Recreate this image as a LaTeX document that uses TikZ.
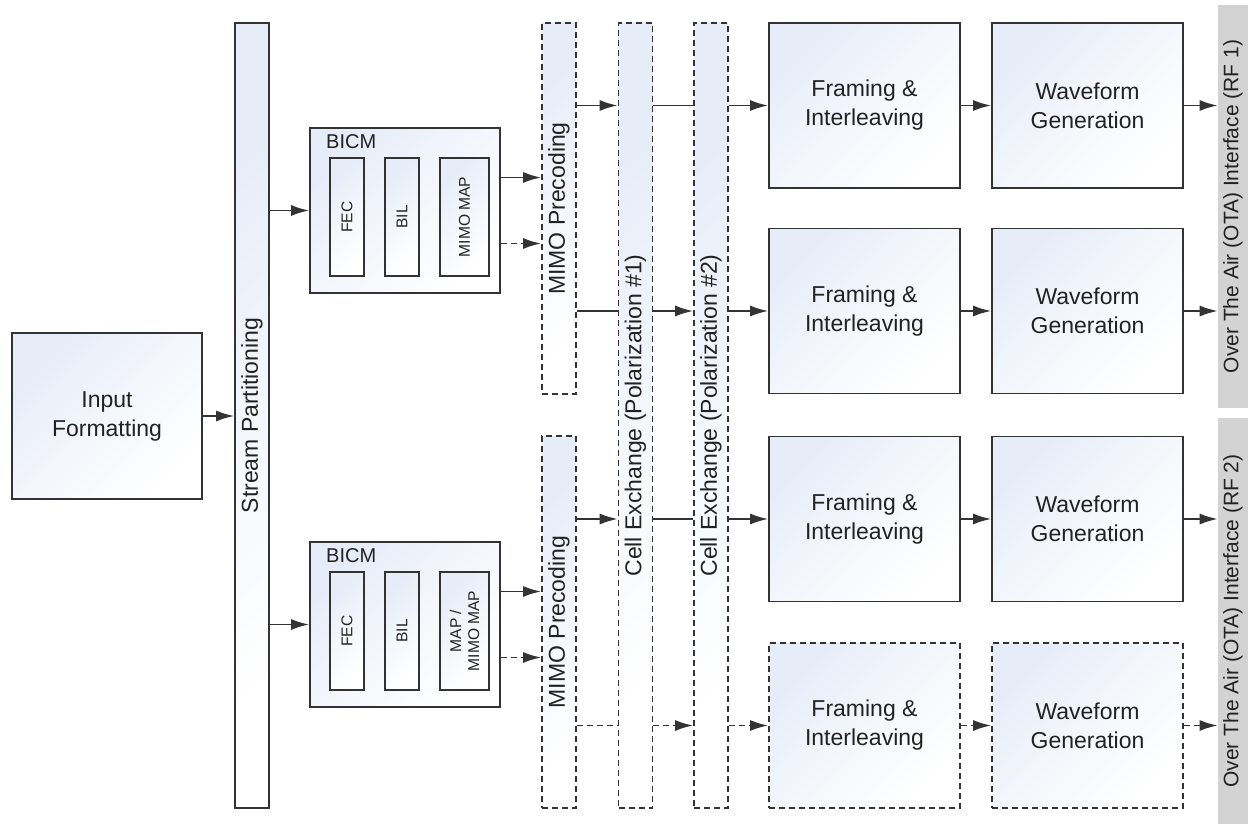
\documentclass[tikz,border=0pt]{standalone}
\usepackage{fontspec}
\setmainfont{Liberation Sans}
\usetikzlibrary{arrows.meta}
\definecolor{edge}{HTML}{333333}
\definecolor{tint}{HTML}{E6ECF8}
\definecolor{ink}{HTML}{222222}
\definecolor{otagray}{HTML}{D3D3D3}
\tikzset{
  >={Latex[length=9pt,width=5.5pt]},
  blk/.style={draw=edge,line width=0.9pt,top color=tint,bottom color=white,
    middle color=tint!45!white,shading angle=45,inner sep=0pt,text=ink,align=center,
    font=\fontsize{11.5}{14.5}\selectfont},
  dblk/.style={blk,dash pattern=on 3pt off 2pt},
  vtxt/.style={rotate=90,text=ink,font=\fontsize{11.5}{14.5}\selectfont},
  tinytxt/.style={rotate=90,text=ink,align=center,font=\fontsize{7.8}{9}\selectfont},
  otabar/.style={fill=otagray,draw=none,inner sep=0pt},
  otatxt/.style={rotate=90,text=ink,font=\fontsize{10.5}{12}\selectfont},
  link/.style={draw=edge,line width=0.85pt},
  dlink/.style={link,dash pattern=on 3pt off 2pt},
}

\begin{document}
\begin{tikzpicture}[x=0.5pt,y=-0.5pt]
\fill[white] (0,0) rectangle (1248,824);
\useasboundingbox (0,0) rectangle (1248,824);
% input side
\node[blk,minimum width=95pt,minimum height=83pt] (inp) at (107,416) {Input\\Formatting};
\node[blk,minimum width=17pt,minimum height=392.5pt] (stream) at (252,415.5) {};
\node[vtxt] (streamtxt) at (stream) {Stream Partitioning};
% the two BICM chains
\foreach \k/\y/\maptxt in {1/210.5/{MIMO MAP},2/624.5/{MAP /\\MIMO MAP}} {
  \node[blk,minimum width=95pt,minimum height=82.5pt] (bicm\k) at (405,\y) {};
  \node[anchor=west,text=ink,font=\fontsize{10}{11}\selectfont] (bicmlbl\k)
    at ([xshift=5pt,yshift=-7.5pt]bicm\k.north west) {BICM};
  \node[blk,minimum width=17pt,minimum height=59pt] (fec\k) at (347,\y+6.5) {};
  \node[blk,minimum width=17pt,minimum height=59pt] (bil\k) at (402,\y+6.5) {};
  \node[blk,minimum width=24.5pt,minimum height=59pt] (map\k) at (464.5,\y+6.5) {};
  \node[tinytxt] (fectxt\k) at (fec\k) {FEC};
  \node[tinytxt] (biltxt\k) at (bil\k) {BIL};
  \node[tinytxt] (maptxt\k) at (map\k) {\maptxt};
}
% precoding and cell exchange
\node[dblk,minimum width=17pt,minimum height=185.5pt] (mimo1) at (559,208.5) {};
\node[dblk,minimum width=17pt,minimum height=186pt] (mimo2) at (559,622) {};
\node[vtxt] (mimotxt1) at (mimo1) {MIMO Precoding};
\node[vtxt] (mimotxt2) at (mimo2) {MIMO Precoding};
\node[dblk,minimum width=17pt,minimum height=392.5pt] (cell1) at (635.5,415.5) {};
\node[dblk,minimum width=17pt,minimum height=392.5pt] (cell2) at (711,415.5) {};
\node[vtxt] (celltxt1) at (cell1) {Cell Exchange (Polarization \#1)};
\node[vtxt] (celltxt2) at (cell2) {Cell Exchange (Polarization \#2)};
% OTA interfaces
\node[otabar,minimum width=15pt,minimum height=201.5pt] (ota1) at (1233,206.5) {};
\node[otabar,minimum width=15pt,minimum height=203pt] (ota2) at (1233,621) {};
\node[otatxt] (otatxt1) at (ota1) {Over The Air (OTA) Interface (RF 1)};
\node[otatxt] (otatxt2) at (ota2) {Over The Air (OTA) Interface (RF 2)};
% framing + waveform rows
\foreach \i/\y/\bx/\ln/\o in {1/105.5/blk/link/ota1,2/311/blk/link/ota1,
    3/519/blk/link/ota2,4/725.5/dblk/dlink/ota2} {
  \node[\bx,minimum width=95.5pt,minimum height=82.5pt] (frame\i) at (864.5,\y) {Framing \&\\Interleaving};
  \node[\bx,minimum width=95.5pt,minimum height=82.5pt] (wave\i) at (1087.5,\y) {Waveform\\Generation};
  \draw[\ln,->] (frame\i) -- (wave\i);
  \draw[\ln,->] (wave\i) -- (\o.west |- wave\i);
}
% connectors
\draw[link,->] (inp) -- (stream.west |- inp);
\draw[link,->] (stream.east |- bicm1) -- (bicm1);
\draw[link,->] (stream.east |- bicm2) -- (bicm2);
\path ([yshift=16.5pt]bicm1.east) coordinate (b1hi) ([yshift=-16.5pt]bicm1.east) coordinate (b1lo)
      ([yshift=16.5pt]bicm2.east) coordinate (b2hi) ([yshift=-16.5pt]bicm2.east) coordinate (b2lo);
\draw[link,->] (b1hi) -- (mimo1.west |- b1hi);
\draw[dlink,->] (b1lo) -- (mimo1.west |- b1lo);
\draw[link,->] (b2hi) -- (mimo2.west |- b2hi);
\draw[dlink,->] (b2lo) -- (mimo2.west |- b2lo);
\draw[link,->] (mimo1.east |- frame1) -- (cell1.west |- frame1);
\draw[link] (cell1.east |- frame1) -- (cell2.west |- frame1);
\draw[link,->] (cell2.east |- frame1) -- (frame1);
\draw[link] (mimo1.east |- frame2) -- (cell1.west |- frame2);
\draw[link,->] (cell1.east |- frame2) -- (cell2.west |- frame2);
\draw[link,->] (cell2.east |- frame2) -- (frame2);
\draw[link,->] (mimo2.east |- frame3) -- (cell1.west |- frame3);
\draw[link] (cell1.east |- frame3) -- (cell2.west |- frame3);
\draw[link,->] (cell2.east |- frame3) -- (frame3);
\draw[dlink] (mimo2.east |- frame4) -- (cell1.west |- frame4);
\draw[dlink,->] (cell1.east |- frame4) -- (cell2.west |- frame4);
\draw[dlink,->] (cell2.east |- frame4) -- (frame4);
\end{tikzpicture}
\end{document}
